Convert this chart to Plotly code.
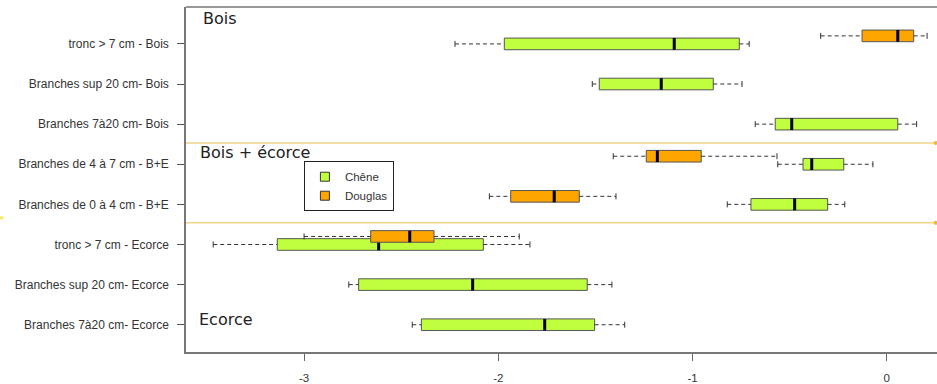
import plotly.graph_objects as go

# ---------------- data ----------------
categories = [
    "tronc > 7 cm - Bois",
    "Branches sup 20 cm- Bois",
    "Branches 7à20 cm- Bois",
    "Branches de 4 à 7 cm - B+E",
    "Branches de 0 à 4 cm - B+E",
    "tronc > 7 cm - Ecorce",
    "Branches sup 20 cm- Ecorce",
    "Branches 7à20 cm- Ecorce",
]

chene_low = [-2.223, -1.516, -0.677, -0.561, -0.821, -3.468, -2.770, -2.443]
chene_q1 = [-1.969, -1.480, -0.574, -0.431, -0.699, -3.138, -2.719, -2.396]
chene_med = [-1.094, -1.161, -0.489, -0.386, -0.474, -2.616, -2.132, -1.761]
chene_q3 = [-0.759, -0.893, 0.057, -0.221, -0.304, -2.077, -1.542, -1.504]
chene_high = [-0.708, -0.745, 0.154, -0.071, -0.216, -1.837, -1.415, -1.349]

douglas_cats = [
    "tronc > 7 cm - Bois",
    "Branches de 4 à 7 cm - B+E",
    "Branches de 0 à 4 cm - B+E",
    "tronc > 7 cm - Ecorce",
]
douglas_low = [-0.340, -1.408, -2.046, -3.000]
douglas_q1 = [-0.127, -1.238, -1.936, -2.657]
douglas_med = [0.057, -1.181, -1.712, -2.456]
douglas_q3 = [0.139, -0.955, -1.583, -2.331]
douglas_high = [0.208, -0.565, -1.394, -1.892]

x_ticks = [-3, -2, -1, 0]
section_labels = ["Bois", "Bois + écorce", "Ecorce"]

# ---------------- styling ----------------
CHENE_COL = "#C0FF3E"
DOUGLAS_COL = "#FFA500"
OUTLINE = "#555555"
BOXW = 0.29
CAP = 0.15
DOUGLAS_OFF = 0.2

pos = {c: len(categories) - i for i, c in enumerate(categories)}

fig = go.Figure()


def whiskers(cats, low, q1, q3, high, off):
    ys = [pos[c] + off for c in cats]
    wx, wy, cx, cy = [], [], [], []
    for y, l, a, b, h in zip(ys, low, q1, q3, high):
        wx += [l, a, None, b, h, None]
        wy += [y, y, None, y, y, None]
        cx += [l, l, None, h, h, None]
        cy += [y - CAP / 2, y + CAP / 2, None, y - CAP / 2, y + CAP / 2, None]
    fig.add_trace(go.Scatter(x=wx, y=wy, mode="lines", showlegend=False, hoverinfo="skip",
                             line=dict(color="#333333", width=1, dash="4px,3px")))
    fig.add_trace(go.Scatter(x=cx, y=cy, mode="lines", showlegend=False, hoverinfo="skip",
                             line=dict(color="#333333", width=1)))


def boxes(cats, q1, med, q3, off, color):
    ys = [pos[c] + off for c in cats]
    fig.add_trace(go.Box(y=ys, q1=q1, median=med, q3=q3, lowerfence=q1, upperfence=q3,
                         orientation="h", width=BOXW, fillcolor=color, whiskerwidth=0,
                         line=dict(color=OUTLINE, width=1), boxpoints=False,
                         showlegend=False, hoverinfo="skip"))
    # thick median
    fig.add_trace(go.Box(y=ys, q1=med, median=med, q3=med, lowerfence=med, upperfence=med,
                         orientation="h", width=BOXW, fillcolor="rgba(0,0,0,0)", whiskerwidth=0,
                         line=dict(color="black", width=3), boxpoints=False,
                         showlegend=False, hoverinfo="skip"))


whiskers(categories, chene_low, chene_q1, chene_q3, chene_high, 0)
whiskers(douglas_cats, douglas_low, douglas_q1, douglas_q3, douglas_high, DOUGLAS_OFF)
boxes(categories, chene_q1, chene_med, chene_q3, 0, CHENE_COL)
boxes(douglas_cats, douglas_q1, douglas_med, douglas_q3, DOUGLAS_OFF, DOUGLAS_COL)

# legend entries
for name, col in [("Chêne", CHENE_COL), ("Douglas", DOUGLAS_COL)]:
    fig.add_trace(go.Scatter(x=[None], y=[None], mode="markers", name=name,
                             marker=dict(symbol="square", size=9, color=col,
                                         line=dict(color="#333333", width=1))))

# section separators (between groups)
sep_y = [5.53, 3.54]
for yv in sep_y:
    fig.add_shape(type="line", xref="paper", x0=0, x1=1, yref="y", y0=yv, y1=yv,
                  line=dict(color="#EFD489", width=1.5), layer="below")
fig.add_trace(go.Scatter(x=[0.252, 0.252], y=sep_y, mode="markers", showlegend=False,
                         hoverinfo="skip", cliponaxis=False,
                         marker=dict(color="#F0B838", size=4)))

# top frame line
fig.add_shape(type="line", xref="paper", yref="paper", x0=0, x1=1, y0=1, y1=1,
              line=dict(color="#777777", width=1.5))
# small stray mark at far left
fig.add_shape(type="line", xref="paper", yref="paper", x0=-0.248, x1=-0.243,
              y0=0.389, y1=0.389, line=dict(color="#F5E86A", width=3))

# section titles
for txt, xp, yp in [(section_labels[0], 0.0205, 0.966),
                    (section_labels[1], 0.0155, 0.577),
                    (section_labels[2], 0.0145, 0.093)]:
    fig.add_annotation(text=txt, xref="paper", yref="paper", x=xp, y=yp,
                       xanchor="left", yanchor="middle", showarrow=False,
                       font=dict(family="DejaVu Sans", size=16, color="#222222"))

fig.update_layout(
    width=937, height=384,
    margin=dict(l=186, r=0, t=7, b=32),
    paper_bgcolor="white", plot_bgcolor="white",
    font=dict(family="Liberation Sans, Arial, sans-serif", size=12, color="#333333"),
    showlegend=True,
    legend=dict(x=0.157, y=0.553, xanchor="left", yanchor="top",
                bordercolor="#222222", borderwidth=1, bgcolor="white",
                font=dict(size=11.5, color="#333333"), tracegroupgap=0),
    boxmode="overlay",
)
fig.update_xaxes(range=[-3.608, 0.259], tickvals=x_ticks, ticktext=[str(t) for t in x_ticks],
                 showgrid=False, zeroline=False, showline=True, linecolor="#777777", linewidth=1.5,
                 ticks="outside", ticklen=7, tickcolor="#666666", ticklabelstandoff=7,
                 tickfont=dict(family="Liberation Sans Narrow, Liberation Sans, Arial", size=11.5, color="#333333"))
fig.update_yaxes(range=[0.32, 8.92], tickvals=[pos[c] for c in categories], ticktext=categories,
                 showgrid=False, zeroline=False, showline=True, linecolor="#777777", linewidth=1.5,
                 ticks="outside", ticklen=7, tickcolor="#555555", ticklabelstandoff=6)

fig.write_html("out.html", post_script="document.body.style.margin='0px';",
               config={"displayModeBar": False})
